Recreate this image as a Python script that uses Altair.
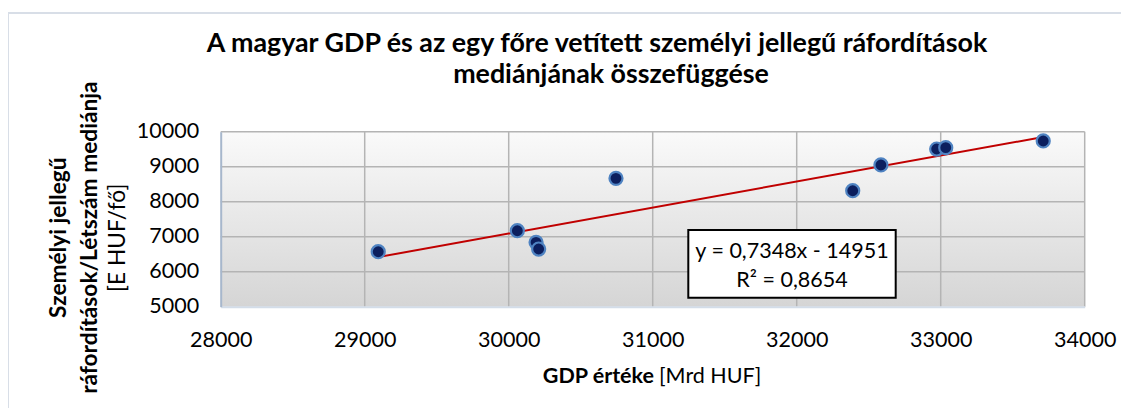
import altair as alt
import pandas as pd

# data
gdp = [29094, 30060, 30190, 30208, 30745, 32389, 32585, 32972, 33035, 33712]
median = [6571, 7171, 6838, 6648, 8667, 8314, 9049, 9505, 9543, 9735]
x_ticks = [28000, 29000, 30000, 31000, 32000, 33000, 34000]
y_ticks = [5000, 6000, 7000, 8000, 9000, 10000]
title_lines = ["A magyar GDP és az egy főre vetített személyi jellegű ráfordítások",
               "mediánjának összefüggése"]
y_title_lines = ["Személyi jellegű", "ráfordítások/Létszám mediánja", "[E HUF/fő]"]
eq_lines = ["y = 0,7348x - 14951", "R² = 0,8654"]

df = pd.DataFrame({"gdp": gdp, "median": median})

W, H = 864, 175
PL, PT = 212.7, 123.7
FONT = "Lato"
FS = 21.5

xs = alt.Scale(domain=[28000, 34000], nice=False, zero=False)
ys = alt.Scale(domain=[5000, 10000], nice=False, zero=False)
xaxis = alt.Axis(values=x_ticks, format="d", title=None, ticks=False, grid=False,
                 labelFlush=False, labelOverlap=False,
                 labelFontSize=FS, labelPadding=23, labelFont=FONT, labelColor="#000000",
                 domainColor="#d3dde9", domainWidth=2, zindex=1)
yaxis = alt.Axis(values=y_ticks, format="d", title=None, ticks=False, grid=False,
                 labelFlush=False, labelOverlap=False,
                 labelFontSize=FS, labelPadding=22, labelFont=FONT, labelColor="#000000",
                 domainColor="#a7b7cc", domainWidth=2, zindex=1)

x = alt.X("gdp:Q", scale=xs, axis=xaxis)
y = alt.Y("median:Q", scale=ys, axis=yaxis)

one = pd.DataFrame({"k": [0]})

border = alt.Chart(one).mark_rect(
    fill="transparent", stroke="#d8dee7", strokeWidth=2).encode(
    x=alt.value(-PL), x2=alt.value(1121 - PL + 30), y=alt.value(5 - PT), y2=alt.value(600))

bg = alt.Chart(one).mark_rect(
    color=alt.LinearGradient(gradient="linear", x1=0, y1=0, x2=0, y2=1,
                             stops=[alt.GradientStop(offset=0, color="#fafafa"),
                                    alt.GradientStop(offset=1, color="#d5d5d5")])).encode(
    x=alt.value(0), x2=alt.value(W), y=alt.value(0), y2=alt.value(H))

vgrid = alt.Chart(pd.DataFrame({"gdp": x_ticks[1:]})).mark_rule(
    color="#b4b4b4", strokeWidth=1.5).encode(x=x)
hgrid = alt.Chart(pd.DataFrame({"median": y_ticks[1:]})).mark_rule(
    color="#b4b4b4", strokeWidth=1.5).encode(y=y)

base = alt.Chart(df)
points = base.mark_point(filled=True, size=170, color="#0c1f5e", stroke="#4f83c2",
                         strokeWidth=2.2, opacity=1, fillOpacity=1).encode(x=x, y=y)
trend = base.transform_regression("gdp", "median", method="linear").mark_line(
    color="#c00000", strokeWidth=2).encode(x=x, y=y)

box = alt.Chart(one).mark_rect(
    fill="#ffffff", stroke="#000000", strokeWidth=2).encode(
    x=alt.value(467.6), x2=alt.value(675), y=alt.value(98.3), y2=alt.value(166))

def txt(s, xv, yv, size=FS, weight="normal", align="center", baseline="alphabetic", angle=0):
    kw = dict(font=FONT, fontSize=size, fontWeight=weight, align=align,
              baseline=baseline, color="#000000")
    if angle:
        kw["angle"] = angle
    return alt.Chart(pd.DataFrame({"t": [s]})).mark_text(**kw).encode(
        text="t:N", x=alt.value(xv), y=alt.value(yv))

eq1 = txt(eq_lines[0], 571.3, 126.6)
eq2 = txt(eq_lines[1], 571.3, 155)
t1 = txt(title_lines[0], 597 - 8 - PL, -80, size=26.8, weight="bold")
t2 = txt(title_lines[1], 611 - 8 - PL, -48.7, size=26.8, weight="bold")

yt = [txt(s, xc, 106, size=22.7, weight=w, baseline="middle", angle=270)
      for s, xc, w in zip(y_title_lines, [-162, -131, -103], ["bold", "bold", "normal"])]

xt_bold = txt("GDP értéke", 433.3, H + 76.3, weight="bold", align="right")
xt_norm = txt("[Mrd HUF]", 438.3, H + 76.3, align="left")

chart = alt.layer(border, bg, vgrid, hgrid, trend, points, box, eq1, eq2, t1, t2, *yt,
                  xt_bold, xt_norm).properties(
    width=W, height=H,
    autosize=alt.AutoSizeParams(type="none"),
    padding={"left": PL, "top": PT, "right": 1113 - PL - W, "bottom": 400 - PT - H},
    background="#ffffff",
).configure_view(strokeWidth=0)

chart.save("out.html", embed_options={"renderer": "svg", "actions": False})
